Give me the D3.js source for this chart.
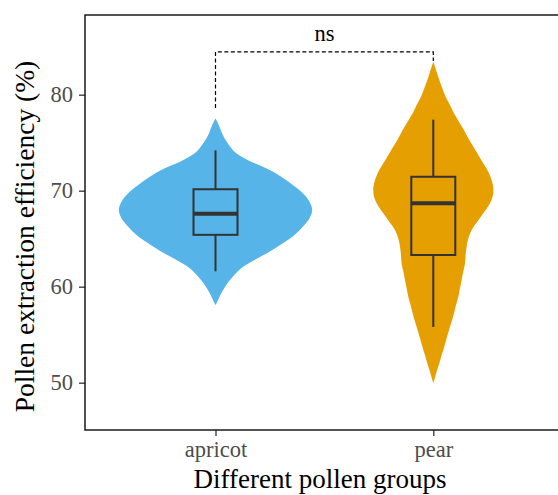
<!DOCTYPE html>
<html>
<head>
<meta charset="utf-8">
<script src="https://cdn.jsdelivr.net/npm/d3@7"></script>
<style>
  body { margin: 0; background: #fff; }
  text { font-family: "Liberation Serif", "Times New Roman", serif; }
</style>
</head>
<body>
<div id="chart"></div>
<script>
// DATA
const groups = ["apricot", "pear"];
const colors = ["#56B4E9", "#E69F00"];
const yTicks = [50, 60, 70, 80];

// violin outlines: value -> relative density
const apricotValues  = [77.54, 76.67, 75.80, 74.94, 74.06, 73.20, 72.33, 71.46, 70.59, 69.73, 68.85, 67.99,
                        67.13, 66.25, 65.39, 64.52, 63.65, 62.78, 61.92, 61.04, 60.18, 59.31, 58.44, 58.09];
const apricotDensity = [0, 0.041, 0.075, 0.127, 0.196, 0.33, 0.523, 0.677, 0.797, 0.9, 0.969, 0.997,
                        0.969, 0.9, 0.814, 0.694, 0.557, 0.402, 0.265, 0.178, 0.11, 0.059, 0.018, 0];
const pearValues  = [83.44, 82.40, 81.53, 80.66, 79.79, 78.93, 78.06, 77.19, 76.32, 75.45, 74.59, 73.72, 72.85,
                     71.98, 71.11, 70.25, 69.38, 68.51, 67.64, 66.77, 65.91, 65.04, 64.17, 63.30, 62.43, 61.57,
                     60.70, 59.83, 58.96, 58.09, 57.23, 56.36, 55.49, 54.62, 53.75, 52.89, 52.02, 51.15, 50.28, 49.94];
const pearDensity = [0, 0.034, 0.062, 0.093, 0.127, 0.172, 0.213, 0.265, 0.316, 0.361, 0.412, 0.464, 0.515,
                     0.567, 0.601, 0.619, 0.611, 0.574, 0.515, 0.454, 0.395, 0.361, 0.343, 0.333, 0.327, 0.309,
                     0.292, 0.275, 0.258, 0.234, 0.213, 0.189, 0.162, 0.137, 0.113, 0.086, 0.062, 0.034, 0.01, 0];

// box stats per group
const whiskerLow  = [61.6, 55.8];
const q1          = [65.4, 63.3];
const medians     = [67.6, 68.7];
const q3          = [70.15, 71.45];
const whiskerHigh = [74.2, 77.4];

// significance bracket
const bracketY = 84.45;
const bracketEnds = [78.6, 83.5];
const bracketLabel = "ns";

const width = 558, height = 495;
const margin = {top: 15, left: 85, bottom: 65};

const svg = d3.select("#chart").append("svg")
    .attr("width", width)
    .attr("height", height);

// SCALES
const xScale = d3.scalePoint()
    .domain(groups)
    .range([215.5, 433.3]);

const yScale = d3.scaleLinear()
    .domain([45.07, 88.3])
    .range([height - margin.bottom, margin.top]);

const wScale = d3.scaleLinear()
    .domain([0, 1])
    .range([0, 97]);

// VIOLINS
const violinData = [
  apricotValues.map((v, i) => ({v: v, d: apricotDensity[i]})),
  pearValues.map((v, i) => ({v: v, d: pearDensity[i]}))
];

groups.forEach((g, i) => {
  const cx = xScale(g);
  const area = d3.area()
      .y(d => yScale(d.v))
      .x0(d => cx - wScale(d.d))
      .x1(d => cx + wScale(d.d))
      .curve(d3.curveCatmullRom.alpha(0.5));
  svg.append("path")
      .datum(violinData[i])
      .attr("d", area)
      .attr("fill", colors[i]);
});

// BOXES
const boxW = 44;
const boxes = svg.append("g")
    .attr("stroke", "#333333")
    .attr("fill", "none");

groups.forEach((g, i) => {
  const cx = xScale(g);
  boxes.append("line")
      .attr("x1", cx).attr("x2", cx)
      .attr("y1", yScale(whiskerHigh[i])).attr("y2", yScale(q3[i]))
      .attr("stroke-width", 2);
  boxes.append("line")
      .attr("x1", cx).attr("x2", cx)
      .attr("y1", yScale(q1[i])).attr("y2", yScale(whiskerLow[i]))
      .attr("stroke-width", 2);
  boxes.append("rect")
      .attr("x", cx - boxW / 2)
      .attr("y", yScale(q3[i]))
      .attr("width", boxW)
      .attr("height", yScale(q1[i]) - yScale(q3[i]))
      .attr("stroke-width", 2);
  boxes.append("line")
      .attr("x1", cx - boxW / 2).attr("x2", cx + boxW / 2)
      .attr("y1", yScale(medians[i])).attr("y2", yScale(medians[i]))
      .attr("stroke-width", 4);
});

// BRACKET
const bx = groups.map(g => xScale(g));
svg.append("path")
    .attr("d", d3.line()([
      [bx[0], yScale(bracketEnds[0])],
      [bx[0], yScale(bracketY)],
      [bx[1], yScale(bracketY)],
      [bx[1], yScale(bracketEnds[1])]
    ]))
    .attr("fill", "none")
    .attr("stroke", "#000")
    .attr("stroke-width", 1.2)
    .attr("stroke-dasharray", "4,2.5");

svg.append("text")
    .attr("x", (bx[0] + bx[1]) / 2)
    .attr("y", 41)
    .attr("text-anchor", "middle")
    .attr("font-size", 22.5)
    .attr("fill", "#000")
    .text(bracketLabel);

// AXES
const yAxis = d3.axisLeft(yScale)
    .tickValues(yTicks)
    .tickSize(6)
    .tickPadding(6)
    .tickSizeOuter(0);

const yAxisGroup = svg.append("g")
    .attr("transform", `translate(${margin.left}, 0)`)
    .call(yAxis);

const xAxis = d3.axisBottom(xScale)
    .tickSize(6)
    .tickPadding(6)
    .tickSizeOuter(0);

const xAxisGroup = svg.append("g")
    .attr("transform", `translate(0, ${height - margin.bottom})`)
    .call(xAxis);

[yAxisGroup, xAxisGroup].forEach(ax => {
  ax.select(".domain").remove();
  ax.selectAll(".tick line").attr("stroke", "#333333").attr("stroke-width", 1.3);
  ax.selectAll(".tick text")
      .attr("font-size", 22.5)
      .attr("fill", "#4d4d4d")
      .style("font-family", "'Liberation Serif', 'Times New Roman', serif");
});
xAxisGroup.selectAll(".tick text").attr("y", 27).attr("dy", null);

// panel border
svg.append("rect")
    .attr("x", margin.left)
    .attr("y", margin.top)
    .attr("width", 480)
    .attr("height", height - margin.bottom - margin.top)
    .attr("fill", "none")
    .attr("stroke", "#1a1a1a")
    .attr("stroke-width", 1.5);

// AXIS TITLES
svg.append("text")
    .attr("x", 320)
    .attr("y", 488)
    .attr("text-anchor", "middle")
    .attr("font-size", 27)
    .attr("fill", "#000")
    .text("Different pollen groups");

svg.append("text")
    .attr("transform", "translate(34, 236.5) rotate(-90)")
    .attr("text-anchor", "middle")
    .attr("font-size", 27.5)
    .attr("fill", "#000")
    .text("Pollen extraction efficiency (%)");
</script>
</body>
</html>
